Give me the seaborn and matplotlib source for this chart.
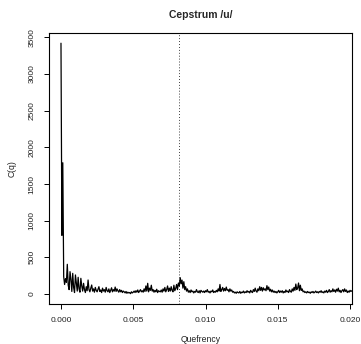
import numpy as np
import pandas as pd
import matplotlib
matplotlib.use("Agg")
import matplotlib.pyplot as plt
import seaborn as sns

# cepstrum values (one per sample, fs = 16 kHz)
fs = 16000
cepstrum = [
    3420, 800, 1790, 236, 130, 210, 160, 405, 120, 60,
    305, 200, 35, 282, 90, 20, 260, 150, 40, 228,
    70, 25, 214, 110, 40, 146, 60, 20, 100, 45,
    191, 60, 30, 80, 123, 40, 70, 25, 90, 50,
    30, 65, 100, 35, 55, 20, 80, 40, 60, 25,
    90, 45, 30, 70, 20, 50, 85, 30, 60, 40,
    95, 35, 70, 45, 25, 60, 30, 50, 20, 40,
    30, 15, 35, 10, 25, 15, 20, 5, 30, 15,
    25, 40, 20, 45, 25, 55, 20, 40, 60, 30,
    45, 25, 70, 35, 110, 40, 146, 30, 80, 50,
    120, 40, 60, 25, 50, 30, 65, 20, 45, 35,
    30, 55, 25, 70, 40, 90, 30, 60, 110, 35,
    80, 40, 100, 50, 30, 120, 45, 75, 130, 60,
    150, 110, 223, 140, 190, 80, 168, 60, 100, 40,
    70, 25, 45, 20, 55, 30, 40, 15, 35, 25,
    60, 30, 20, 45, 15, 50, 35, 25, 40, 20,
    45, 30, 60, 25, 35, 15, 40, 30, 55, 20,
    35, 25, 50, 30, 70, 40, 130, 35, 60, 90,
    40, 75, 45, 95, 50, 60, 30, 70, 40, 55,
    25, 35, 15, 25, 10, 30, 20, 15, 35, 10,
    25, 20, 40, 15, 30, 20, 45, 25, 35, 15,
    50, 30, 20, 60, 35, 80, 40, 25, 70, 45,
    100, 50, 90, 40, 85, 55, 70, 45, 114, 60,
    95, 40, 65, 30, 55, 25, 40, 20, 35, 15,
    30, 50, 20, 40, 25, 45, 15, 35, 20, 55,
    30, 40, 20, 60, 35, 25, 70, 40, 90, 50,
    136, 60, 80, 150, 45, 120, 50, 70, 30, 40,
    20, 30, 15, 35, 20, 25, 10, 30, 20, 35,
    15, 25, 40, 20, 30, 15, 35, 25, 45, 20,
    30, 15, 40, 25, 50, 20, 35, 60, 25, 45,
    30, 70, 35, 55, 25, 65, 40, 80, 30, 50,
    20, 45, 60, 30, 70, 35, 55, 20, 40, 25,
    50, 35, 45,
]
pitch_period = 0.0082
x_ticks = [0.000, 0.005, 0.010, 0.015, 0.020]
y_ticks = [0, 500, 1000, 1500, 2000, 2500, 3000, 3500]

df = pd.DataFrame({"quefrency": np.arange(len(cepstrum)) / fs,
                   "cep": cepstrum})

sns.set_theme(style="ticks")
plt.rcParams["font.family"] = ["Liberation Sans", "DejaVu Sans"]

fig = plt.figure(figsize=(3.61, 3.44), dpi=100)
ax = fig.add_axes([0.1357, 0.1163, 0.976 - 0.1357, 0.904 - 0.1163])

sns.lineplot(data=df, x="quefrency", y="cep", color="black", linewidth=0.9, ax=ax)
ax.axvline(pitch_period, color="black", linestyle=(0, (1, 2.5)), linewidth=0.6)

ax.set_xlim(-0.00083, 0.02016)
ax.set_ylim(-136, 3559)
ax.set_xticks(x_ticks)
ax.set_xticklabels([f"{t:.3f}" for t in x_ticks])
ax.set_yticks(y_ticks)
ax.set_yticklabels([str(t) for t in y_ticks], rotation=90, va="center")
ax.tick_params(axis="both", length=3.6, width=0.7, pad=6, labelsize=6,
               colors="black", labelcolor="#222222")
for s in ax.spines.values():
    s.set_visible(True)
    s.set_linewidth(0.8)
    s.set_color("black")

ax.set_xlabel("Quefrency", fontsize=6.2, color="#222222", labelpad=8)
ax.set_ylabel("C(q)", fontsize=6.2, color="#222222", labelpad=9)
ax.set_title("Cepstrum /u/", fontsize=7.5, fontweight="bold", pad=11)

fig.savefig("out.png", dpi=100)
